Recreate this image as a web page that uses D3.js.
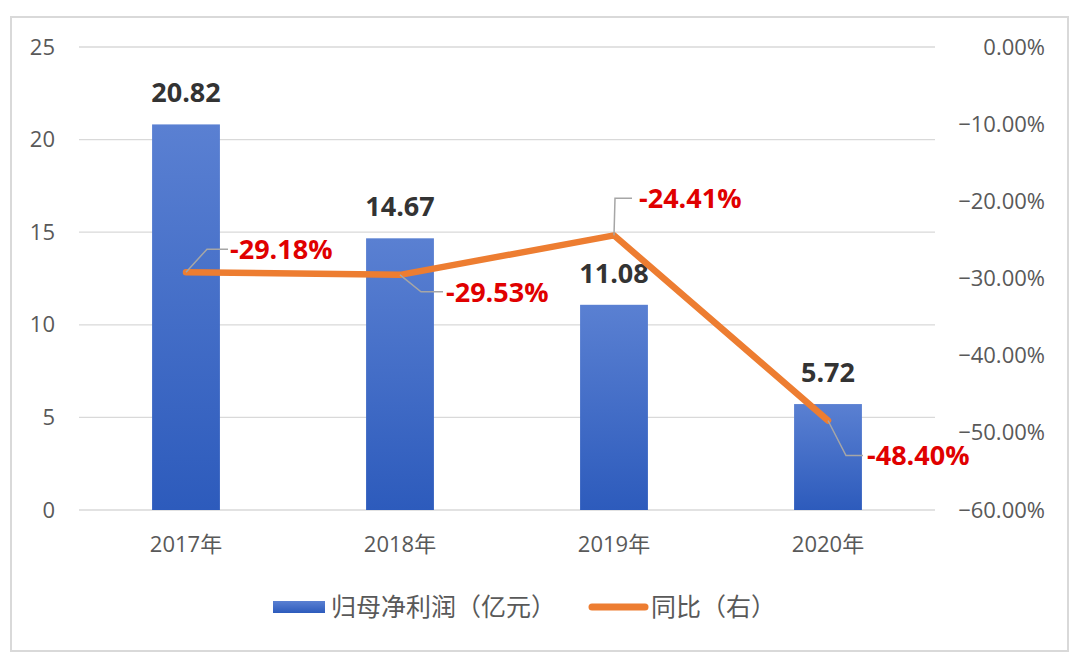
<!DOCTYPE html>
<html><head><meta charset="utf-8">
<script src="https://cdn.jsdelivr.net/npm/d3@7"></script>
<style>body{margin:0;background:#fff;font-family:"Noto Sans CJK SC","Open Sans",sans-serif;}</style>
</head><body><svg id="c" width="1080" height="667"></svg>
<script>
const categories = ["2017年","2018年","2019年","2020年"];
const profit = [20.82, 14.67, 11.08, 5.72];
const yoy = [-29.18, -29.53, -24.41, -48.40];
const leftTicks = [0,5,10,15,20,25];
const rightTicks = [0,-10,-20,-30,-40,-50,-60];
const seriesNames = ["归母净利润（亿元）","同比（右）"];

const svg = d3.select("#c");
svg.append("rect").attr("x",11).attr("y",17).attr("width",1057).attr("height",634)
  .attr("fill","#fff").attr("stroke","#d9d9d9").attr("stroke-width",2);

const x = d3.scaleBand().domain(categories).range([79,935]).paddingInner(0.683).paddingOuter(0.3415);
const yL = d3.scaleLinear().domain([0,25]).range([510,47]);
const yR = d3.scaleLinear().domain([-60,0]).range([510,47]);

const defs = svg.append("defs");
const g = defs.append("linearGradient").attr("id","bg").attr("x1",0).attr("y1",0).attr("x2",0).attr("y2",1);
g.append("stop").attr("offset","0%").attr("stop-color","#5a80d2");
g.append("stop").attr("offset","100%").attr("stop-color","#2d5bbc");

// gridlines
svg.append("g").selectAll("line").data(leftTicks).join("line")
  .attr("x1",79).attr("x2",935).attr("y1",d=>yL(d)).attr("y2",d=>yL(d))
  .attr("stroke","#d9d9d9").attr("stroke-width",1.3);

const axFont = "Open Sans, 'Noto Sans CJK SC', sans-serif";
// left axis
const axL = d3.axisLeft(yL).tickValues(leftTicks).tickSize(0).tickPadding(0);
const gl = svg.append("g").attr("transform","translate(55,0)").call(axL);
gl.select(".domain").remove();
gl.selectAll("text").attr("font-size",22).attr("fill","#595959").attr("font-family",axFont);

// right axis
const axR = d3.axisRight(yR).tickValues(rightTicks).tickSize(0).tickPadding(0).tickFormat(d=>d3.format(".2f")(d)+"%");
const gr = svg.append("g").attr("transform","translate(1045,0)").call(axR);
gr.select(".domain").remove();
gr.selectAll("text").attr("text-anchor","end").attr("font-size",22).attr("fill","#595959").attr("font-family",axFont);

// x axis
const axX = d3.axisBottom(x).tickSize(0).tickPadding(0);
const gx = svg.append("g").attr("transform","translate(0,536)").call(axX);
gx.select(".domain").remove();
gx.selectAll("text").attr("font-size",22).attr("fill","#595959").attr("font-family",axFont);

// bars
svg.append("g").selectAll("rect").data(profit).join("rect")
  .attr("x",(d,i)=>x(categories[i])).attr("width",x.bandwidth())
  .attr("y",d=>yL(d)).attr("height",d=>yL(0)-yL(d)).attr("fill","url(#bg)");

// bar labels
svg.append("g").selectAll("text").data(profit).join("text")
  .attr("x",(d,i)=>x(categories[i])+x.bandwidth()/2).attr("y",d=>yL(d)-22)
  .attr("text-anchor","middle").attr("font-size",27).attr("font-weight","bold")
  .attr("fill","#333").attr("font-family","Open Sans, sans-serif").text(d=>d.toFixed(2));

// line
const cx = i=>x(categories[i])+x.bandwidth()/2;
const line = d3.line().x((d,i)=>cx(i)).y(d=>yR(d));
svg.append("path").datum(yoy).attr("d",line).attr("fill","none")
  .attr("stroke","#ed7d31").attr("stroke-width",6.5).attr("stroke-linejoin","round").attr("stroke-linecap","round");

// leader lines & labels (offsets relative to points)
const lab = [
  {dx1:21,dy1:-23,dx2:42,tx:44},
  {dx1:21,dy1:17,dx2:43,tx:46},
  {dx1:1,dy1:-37,dx2:18,tx:25},
  {dx1:18,dy1:35,dx2:35,tx:39}
];
const lg = svg.append("g");
yoy.forEach((v,i)=>{
  const px=cx(i), py=yR(v), L=lab[i];
  lg.append("polyline").attr("points",`${px},${py} ${px+L.dx1},${py+L.dy1} ${px+L.dx2},${py+L.dy1}`)
    .attr("fill","none").attr("stroke","#a6a6a6").attr("stroke-width",1.5);
  lg.append("text").attr("x",px+L.tx).attr("y",py+L.dy1).attr("dy","0.36em")
    .attr("font-size",27).attr("font-weight","bold").attr("fill","#e00000")
    .attr("font-family","Open Sans, sans-serif").text(v.toFixed(2)+"%");
});

// legend
const leg = svg.append("g");
leg.append("rect").attr("x",273).attr("y",601).attr("width",52).attr("height",12).attr("fill","url(#bg)");
leg.append("text").attr("x",331).attr("y",607).attr("dy","0.36em").attr("font-size",25).attr("fill","#595959").text(seriesNames[0]);
leg.append("line").attr("x1",592).attr("x2",645).attr("y1",607).attr("y2",607).attr("stroke","#ed7d31").attr("stroke-width",7).attr("stroke-linecap","round");
leg.append("text").attr("x",651).attr("y",607).attr("dy","0.36em").attr("font-size",25).attr("fill","#595959").text(seriesNames[1]);
</script></body></html>
